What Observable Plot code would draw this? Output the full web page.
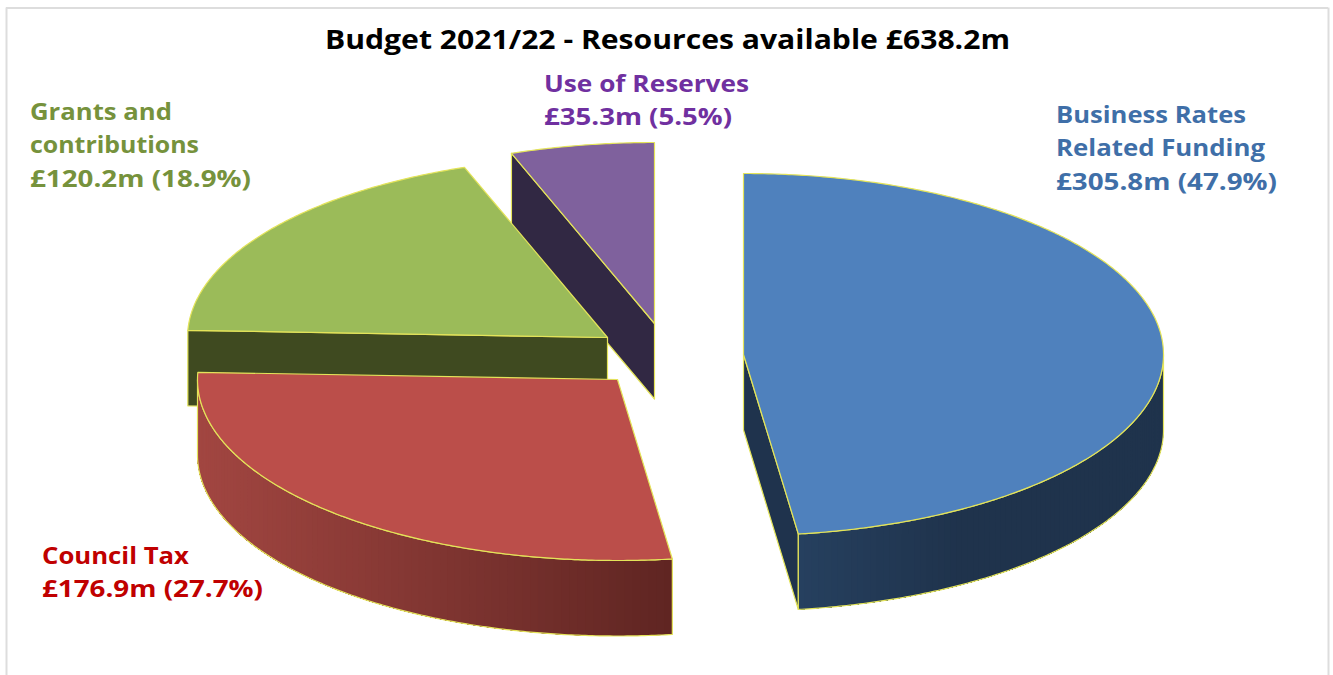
<!DOCTYPE html>
<html><head><meta charset="utf-8">
<script src="https://cdn.jsdelivr.net/npm/d3@7"></script>
<script src="https://cdn.jsdelivr.net/npm/@observablehq/plot@0.6"></script>
<style>html,body{margin:0;padding:0;background:#fff}svg{display:block}</style>
</head><body><div id="chart"></div>
<script>
// Data
const chartTitle = "Budget 2021/22 - Resources available £638.2m";
const names = [["Business Rates","Related Funding"],["Council Tax"],["Grants and","contributions"],["Use of Reserves"]];
const amounts = [305.8, 176.9, 120.2, 35.3];
const shares = [47.9, 27.7, 18.9, 5.5];
// Styles
const topColors = ["#4f81bd","#bb4e4a","#9bbb59","#7f619d"];
const textColors = ["#3f6fa8","#c00000","#76923c","#7030a0"];
const cutColors = ["#1f334d","#5f2522","#3f4a20","#312843"];
const wallRamp = [["#26405f","#1f334c"],["#a24641","#5f2522"],null,null];
const edge = "#e4e45a";
// Layout: pie centre, radii, depth, per-slice explosion, label anchors and line widths
const cx = 667, cy = 355, rx = 420, ry = 181, depth = 75.5;
const explodeX = [76,-50,-60,-13], explodeY = [-1,24,-18,-32];
const labelX = [1055.5,41.5,29.5,543.5], labelY = [115,556,112,84], lineGap = 33.5;
const lineWidths = [[190,209,221],[147,221],[142,169,221],[205,188]];
const titleWidth = 685;
const drawOrder = [3,2,1,0];

const total = d3.sum(amounts);
let acc = 0;
const slices = amounts.map((v,i)=>{
  const a0 = acc/total*2*Math.PI; acc += v;
  return {i, a0, a1: acc/total*2*Math.PI, ox: cx+explodeX[i], oy: cy+explodeY[i]};
});
const rim = (s,a,dz=0)=>[s.ox+rx*Math.sin(a), s.oy-ry*Math.cos(a)+dz];
const arc = (s,a0,a1,dz=0)=>{
  const n = Math.max(2,Math.ceil(Math.abs(a1-a0)*120));
  return d3.range(n+1).map(k=>rim(s,a0+(a1-a0)*k/n,dz));
};
const rows = [];
let nid = 0;
const poly = (pts,fill,stroke,sw)=>{const id=nid++; for(const [x,y] of pts) rows.push({id,x,y,fill,stroke,sw});};
const edgeWidth = 1.2;
for (const i of drawOrder) {
  const s = slices[i], top=[s.ox,s.oy], bot=[s.ox,s.oy+depth];
  // visible flat cut faces
  if (i===0) poly([top,rim(s,s.a1),rim(s,s.a1,depth),bot,top],cutColors[i],edge,edgeWidth);
  if (i===2 || i===3) poly([top,rim(s,s.a0),rim(s,s.a0,depth),bot,top],cutColors[i],edge,edgeWidth);
  // visible outer wall with horizontal shading (overlapping strips, painted in order)
  if (wallRamp[i]) {
    const lo = Math.max(s.a0,Math.PI/2), hi = Math.min(s.a1,3*Math.PI/2);
    const color = d3.interpolateRgb(...wallRamp[i]);
    const xa = rim(s,lo)[0], xb = rim(s,hi)[0], xmin = Math.min(xa,xb), span = Math.abs(xa-xb);
    const N = 90;
    for (let k=0;k<N;k++){
      const b0 = lo+(hi-lo)*k/N, b1 = lo+(hi-lo)*(k+1)/N;
      const xm = rim(s,(b0+b1)/2)[0];
      const t = i===0 ? Math.min(1,(xm-xmin)/160) : (xm-xmin)/span;
      const c = color(t);
      poly([...arc(s,b0,hi),...arc(s,hi,b0,depth)],c,"none",0);
    }
    poly([...arc(s,lo,hi),...arc(s,hi,lo,depth),rim(s,lo)],"none",edge,edgeWidth);
  }
  // top face
  poly([top,...arc(s,s.a0,s.a1),top],topColors[i],edge,edgeWidth);
}
const fmt = i=>`£${amounts[i].toFixed(1)}m (${shares[i].toFixed(1)}%)`;
const labels = names.flatMap((ls,i)=>[...ls,fmt(i)].map((text,k)=>({text,x:labelX[i],y:labelY[i]+k*lineGap,c:textColors[i],w:lineWidths[i][k]})));
const font = "'Open Sans', 'Noto Sans', sans-serif";

const chart = Plot.plot({
  width:1333, height:675, margin:0,
  x:{domain:[0,1333],range:[0,1333],axis:null},
  y:{domain:[0,675],range:[0,675],axis:null},
  color:{type:"identity"},
  marks:[
    Plot.ruleX([6,1328],{y1:7.5,y2:675,stroke:"#ddd",strokeWidth:2}),
    Plot.ruleY([7.5],{x1:6,x2:1328,stroke:"#ddd",strokeWidth:2}),
    Plot.line(rows,{x:"x",y:"y",z:"id",fill:"fill",stroke:"stroke",strokeWidth:"sw",curve:"linear",strokeLinejoin:"round"}),
    Plot.text(labels,{x:"x",y:"y",text:"text",fill:"c",textAnchor:"start",fontSize:23,fontWeight:700,fontFamily:font}),
    Plot.text([chartTitle],{x:[667],y:[40],text:d=>d,fill:"#000",fontSize:26.5,fontWeight:700,fontFamily:font})
  ]
});
document.getElementById("chart").append(chart);
// The reference's type is horizontally stretched: fit each line to its measured width.
const widths = [...labels.map(d=>d.w), titleWidth];
d3.select(chart).selectAll("text").each(function(_,k){
  this.setAttribute("textLength",widths[k]);
  this.setAttribute("lengthAdjust","spacingAndGlyphs");
});
</script></body></html>
